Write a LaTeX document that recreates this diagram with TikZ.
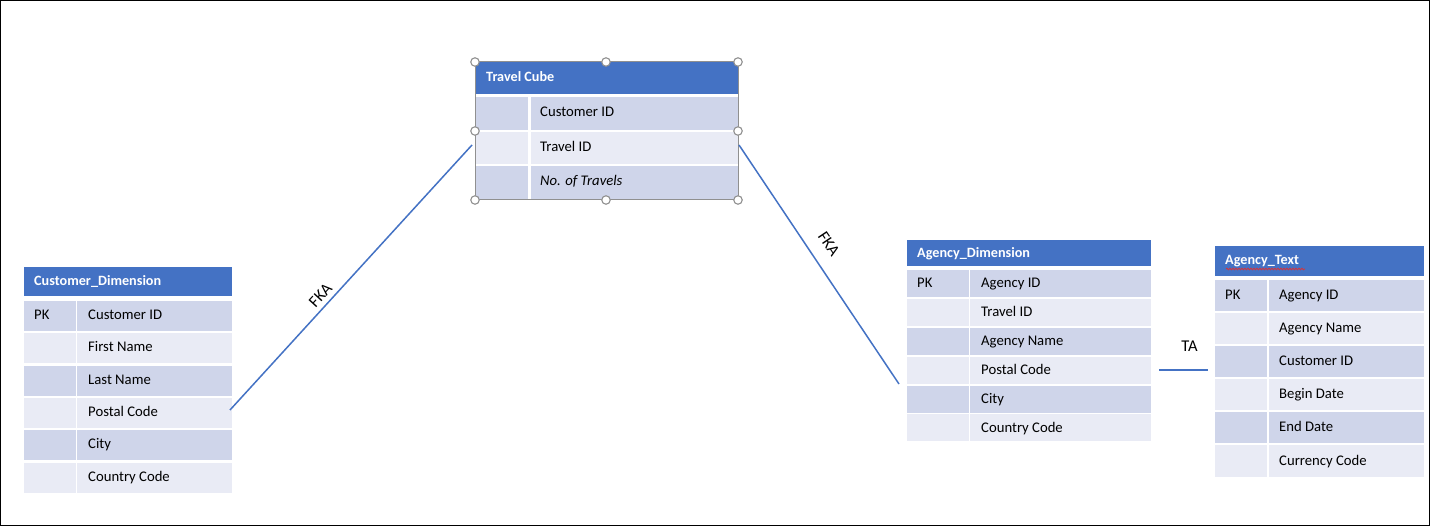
\documentclass[tikz,border=0pt]{standalone}
\usepackage{fontspec}
\setmainfont{Carlito}
\usetikzlibrary{decorations.pathmorphing}
\definecolor{hdr}{HTML}{4472C4}
\definecolor{rowA}{HTML}{CFD5EA}
\definecolor{rowB}{HTML}{E9EBF5}
\definecolor{conn}{HTML}{4472C4}
\definecolor{hgray}{HTML}{909090}
\definecolor{spell}{HTML}{E03030}
\tikzset{
  cellbox/.style={rectangle, draw=none, inner sep=0pt, outer sep=0pt, anchor=north west},
  hdrbox/.style={cellbox, fill=hdr},
  celltext/.style={anchor=west, inner sep=0pt, text height=10pt, text depth=3pt, font=\fontsize{14.7}{17}\selectfont, text=black},
  hdrtext/.style={anchor=west, inner sep=0pt, text height=10pt, text depth=3pt, font=\fontsize{14.2}{17}\selectfont\bfseries, text=white},
  lbl/.style={inner sep=0pt, font=\fontsize{16.5}{19}\selectfont, text=black},
  conn/.style={draw=conn, line width=1.5pt},
  handle/.style={circle, draw=hgray, fill=white, line width=1.1pt, minimum size=8.5pt, inner sep=0pt},
}
\begin{document}
\begin{tikzpicture}[x=1pt,y=-1pt]
\useasboundingbox (0,0) rectangle (1430,526);
\fill[white] (0,0) rectangle (1430,526);
\draw[black, line width=1.4pt] (0.7,0.7) rectangle (1429.3,525.3);

% ---------------- Customer_Dimension ----------------
\node[hdrbox, minimum width=208pt, minimum height=29pt] (cdH) at (24,267) {};
\node[hdrtext] (cdHT) at (34,282.5) {Customer\_Dimension};
\foreach[count=\i] \t in {Customer ID,First Name,Last Name,Postal Code,City,Country Code}{
  \pgfmathsetmacro\yt{301+(\i-1)*32.3}
  \pgfmathsetmacro\yc{\yt+15}
  \ifodd\i \def\fc{rowA}\else\def\fc{rowB}\fi
  \node[cellbox, fill=\fc, minimum width=52pt, minimum height=30pt] (cdL\i) at (24,\yt) {};
  \node[cellbox, fill=\fc, minimum width=155pt, minimum height=30pt] (cdR\i) at (77,\yt) {};
  \node[celltext] (cdT\i) at (88,\yc) {\t};
}
\node[celltext] (cdPK) at (34,316) {PK};

% ---------------- Travel Cube ----------------
\node[hdrbox, minimum width=262pt, minimum height=31.5pt] (tcH) at (475.5,62.5) {};
\node[hdrtext] (tcHT) at (486,78) {Travel Cube};
\foreach[count=\i] \t in {Customer ID,Travel ID,\textit{No. of Travels}}{
  \pgfmathsetmacro\yt{97.5+(\i-1)*34.5}
  \pgfmathsetmacro\yc{\yt+16.25-0.5}
  \ifodd\i \def\fc{rowA}\else\def\fc{rowB}\fi
  \node[cellbox, fill=\fc, minimum width=52.5pt, minimum height=32.5pt] (tcL\i) at (475.5,\yt) {};
  \node[cellbox, fill=\fc, minimum width=207.5pt, minimum height=32.5pt] (tcR\i) at (530.5,\yt) {};
  \node[celltext] (tcT\i) at (540,\yc) {\t};
}
\draw[hgray, line width=1pt] (475,62) rectangle (738,200);
\node[handle] (h1) at (475,62) {};
\node[handle] (h2) at (606,62) {};
\node[handle] (h3) at (738,62) {};
\node[handle] (h4) at (475,131) {};
\node[handle] (h5) at (738,131) {};
\node[handle] (h6) at (475,200) {};
\node[handle] (h7) at (606,200) {};
\node[handle] (h8) at (738,200) {};

% ---------------- Agency_Dimension ----------------
\node[hdrbox, minimum width=244pt, minimum height=26pt] (adH) at (907,240) {};
\node[hdrtext] (adHT) at (917,254.5) {Agency\_Dimension};
\foreach[count=\i] \t in {Agency ID,Travel ID,Agency Name,Postal Code,City,Country Code}{
  \pgfmathsetmacro\yt{270+(\i-1)*28.9}
  \pgfmathsetmacro\yc{\yt+13.5+1}
  \ifodd\i \def\fc{rowA}\else\def\fc{rowB}\fi
  \node[cellbox, fill=\fc, minimum width=62pt, minimum height=27pt] (adL\i) at (907,\yt) {};
  \node[cellbox, fill=\fc, minimum width=181pt, minimum height=27pt] (adR\i) at (970,\yt) {};
  \node[celltext] (adT\i) at (981,\yc) {\t};
}
\node[celltext] (adPK) at (917,284.5) {PK};

% ---------------- Agency_Text ----------------
\node[hdrbox, minimum width=209pt, minimum height=30pt] (atH) at (1215,246) {};
\node[hdrtext] (atHT) at (1225,261.5) {Agency\_Text};
\draw[spell, line width=0.7pt, decorate, decoration={snake, amplitude=0.9pt, segment length=3pt}] (1226,269) -- (1305,269);
\foreach[count=\i] \t in {Agency ID,Agency Name,Customer ID,Begin Date,End Date,Currency Code}{
  \pgfmathsetmacro\yt{280+(\i-1)*33.1}
  \pgfmathsetmacro\yc{\yt+15.5+0.5}
  \ifodd\i \def\fc{rowA}\else\def\fc{rowB}\fi
  \node[cellbox, fill=\fc, minimum width=52pt, minimum height=31pt] (atL\i) at (1215,\yt) {};
  \node[cellbox, fill=\fc, minimum width=155pt, minimum height=31pt] (atR\i) at (1269,\yt) {};
  \node[celltext] (atT\i) at (1279,\yc) {\t};
}
\node[celltext] (atPK) at (1225,296) {PK};

% ---------------- connectors ----------------
\coordinate (fk1a) at (230,410);
\coordinate (fk1b) at (472,145);
\coordinate (fk2a) at (739,145);
\coordinate (fk2b) at (899,384);
\coordinate (taa) at (1159,370);
\coordinate (tab) at (1208,370);
\draw[conn] (fk1a) -- (fk1b);
\draw[conn] (fk2a) -- (fk2b);
\draw[conn] (taa) -- (tab);
\node[lbl, rotate=47.6] (fka1) at (320.5,295) {FKA};
\node[lbl, rotate=-56.2] (fka2) at (829,244) {FKA};
\node[lbl] (ta) at (1189.5,346) {TA};
\end{tikzpicture}
\end{document}
